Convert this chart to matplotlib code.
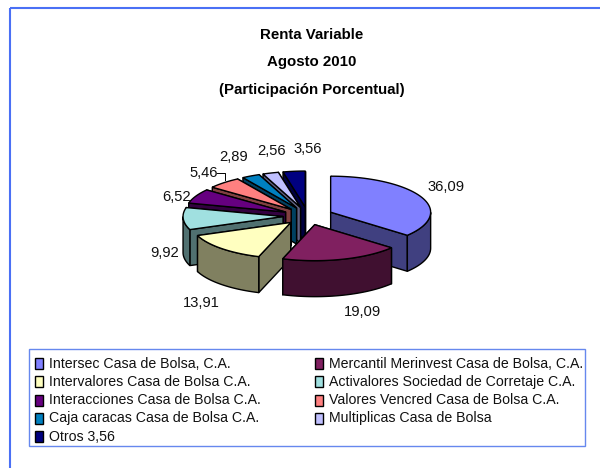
import numpy as np
import matplotlib
matplotlib.use('Agg')
import matplotlib.pyplot as plt
from matplotlib.patches import Polygon, Rectangle

# Datos de la torta
nombres = ['Intersec Casa de Bolsa, C.A.', 'Mercantil Merinvest Casa de Bolsa, C.A.',
           'Intervalores Casa de Bolsa C.A.', 'Activalores Sociedad de Corretaje C.A.',
           'Interacciones Casa de Bolsa C.A.', 'Valores Vencred Casa de Bolsa C.A.',
           'Caja caracas Casa de Bolsa C.A.', 'Multiplicas Casa de Bolsa', 'Otros 3,56']
valores = [36.09, 19.09, 13.91, 9.92, 6.52, 5.46, 2.89, 2.56, 3.56]
etiquetas = ['36,09', '19,09', '13,91', '9,92', '6,52', '5,46', '2,89', '2,56', '3,56']
colores = ['#8080FF', '#802060', '#FFFFC0', '#A0E0E0', '#660080', '#FF8080', '#0080C0', '#C0C0FF', '#000080']
lados = ['#404080', '#401030', '#808060', '#507070', '#330040', '#804040', '#004060', '#606080', '#000040']

# Posiciones en pixeles
pos_etiquetas = [(446, 187), (362, 312), (201, 303), (165, 253), (177, 197), (204, 173), (234, 157), (272, 151), (308, 149)]
CX, CY, RX, RY, PROF, EXPLOTA = 308, 216, 100, 36, 36, 25

plt.rcParams['font.family'] = ['Liberation Sans']

fig = plt.figure(figsize=(6, 4.68), dpi=100)
ax = fig.add_axes([0, 0, 1, 1])
ax.set_xlim(0, 600)
ax.set_ylim(468, 0)
ax.axis('off')

# Marco exterior
ax.add_patch(Rectangle((10, 8), 620, 500, fill=False, ec='#4A70F5', lw=1.5))


def punto(ang, ox, oy, r=1.0):
    return ox + r * RX * np.sin(ang), oy - r * RY * np.cos(ang)


# Dibuja una tajada: caras radiales, pared exterior y tapa
def tajada(a0, a1, color, lado):
    medio = (a0 + a1) / 2
    ox = CX + EXPLOTA * np.sin(medio)
    oy = CY - EXPLOTA * RY / RX * np.cos(medio)
    angs = np.linspace(a0, a1, 60)
    borde = np.array([punto(a, ox, oy) for a in angs])
    caras = []
    for a in (a0, a1):
        x, y = punto(a, ox, oy)
        caras.append([(ox, oy), (x, y), (x, y + PROF), (ox, oy + PROF)])
    caras.sort(key=lambda c: c[1][1])
    for c in caras:
        ax.add_patch(Polygon(c, fc=lado, ec='black', lw=1.0, joinstyle='round'))
    # pared exterior, solo la parte que mira al frente
    frente = borde[np.cos(angs) < 0]
    if len(frente) > 1:
        abajo = frente[::-1] + [0, PROF]
        ax.add_patch(Polygon(np.vstack([frente, abajo]), fc=lado, ec='black', lw=1.0))
    tapa = np.vstack([[ox, oy], borde])
    ax.add_patch(Polygon(tapa, fc=color, ec='black', lw=1.0))


limites = np.cumsum([0] + valores) / sum(valores) * 2 * np.pi
# de atras hacia adelante
for i in [8, 7, 6, 5, 4, 3, 2, 0, 1]:
    tajada(limites[i], limites[i + 1], colores[i], lados[i])

for (x, y), txt in zip(pos_etiquetas, etiquetas):
    ax.text(x, y, txt, fontsize=10.6, ha='center', va='center', color='#111111')

# Guia de la etiqueta 5,46
ax.plot([217, 225, 225], [173, 173, 180], color='black', lw=0.7)

# Titulo
for y, txt in zip([35, 62, 90], ['Renta Variable', 'Agosto 2010', '(Participación Porcentual)']):
    ax.text(312, y, txt, fontsize=10.8, fontweight='bold', ha='center', va='center')

# Leyenda
ax.add_patch(Rectangle((29, 349), 556, 97, fill=False, ec='#6688EE', lw=1.0))
for i, nombre in enumerate(nombres):
    col = i % 2
    fila = i // 2
    x = [35, 315][col]
    y = 363.5 + fila * 18.3
    ax.add_patch(Rectangle((x, y - 5.5), 8, 11, fc=colores[i], ec='black', lw=1.0))
    ax.text(x + 14, y, nombre, fontsize=10.2, ha='left', va='center', color='#111111')

fig.savefig('out.png', dpi=100)
